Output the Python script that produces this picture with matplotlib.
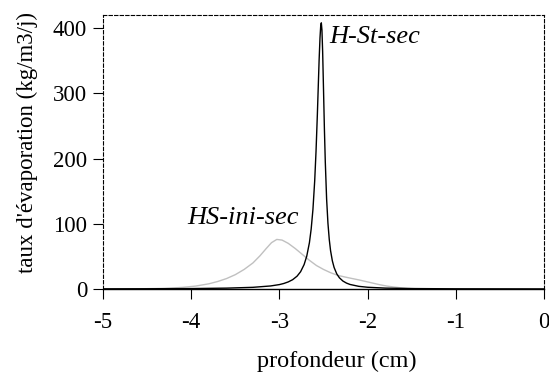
import matplotlib.pyplot as plt

plt.rcParams['font.family'] = ['Liberation Serif', 'DejaVu Serif']

# H-St-sec (black, narrow peak)
x_hst = [-5.0, -4.5, -4.0, -3.6, -3.3, -3.1, -3.0, -2.95, -2.9, -2.85, -2.8, -2.76,
         -2.72, -2.69, -2.66, -2.64, -2.62, -2.6, -2.585, -2.57, -2.56, -2.55, -2.54,
         -2.532, -2.525, -2.518, -2.51, -2.5, -2.49, -2.48, -2.465, -2.45, -2.435,
         -2.42, -2.4, -2.38, -2.35, -2.32, -2.28, -2.24, -2.2, -2.1, -2.0, -1.8,
         -1.5, -1.0, 0.0]
y_hst = [0.26, 0.4, 0.7, 1.35, 2.6, 4.7, 6.8, 8.5, 10.9, 14.3, 19.7, 26.5,
         37.5, 50.5, 71, 92, 122, 166, 211, 267, 309, 351, 385,
         403, 408, 397, 364, 305, 245, 195, 138, 101, 76,
         58.6, 43.2, 33, 23.2, 17.2, 12.2, 9.1, 7.0, 4.1, 2.7, 1.4,
         0.7, 0.3, 0.1]

# HS-ini-sec (grey, broad peak)
x_hsi = [-5.0, -4.6, -4.3, -4.1, -3.95, -3.8, -3.7, -3.6, -3.5, -3.4, -3.3, -3.22,
         -3.15, -3.09, -3.03, -2.97, -2.9, -2.82, -2.74, -2.66, -2.58, -2.5, -2.42,
         -2.34, -2.26, -2.18, -2.1, -2.02, -1.94, -1.86, -1.78, -1.7, -1.62, -1.55,
         -1.45, -1.3, 0.0]
y_hsi = [0, 0.3, 1, 2.5, 4.5, 8, 11.5, 16, 22, 30, 40, 51,
         62, 71, 76, 75, 70, 62, 53, 44, 36, 30, 25,
         21, 18.5, 16.2, 14, 11.5, 9, 6.5, 4.5, 3, 1.8, 1,
         0.4, 0.1, 0]

xticks = [-5, -4, -3, -2, -1, 0]
yticks = [0, 100, 200, 300, 400]

fig = plt.figure(figsize=(5.49, 3.78), dpi=100)
ax = fig.add_axes([0.1876, 0.2354, 0.8034, 0.7249])

ax.plot(x_hsi, y_hsi, color='#c0c0c0', lw=1.0)
ax.plot(x_hst, y_hst, color='black', lw=1.0)

ax.set_xlim(-5, 0)
ax.set_ylim(0, 420)
ax.set_xticks(xticks)
ax.set_xticklabels([str(v) for v in xticks])
ax.set_yticks(yticks)
ax.tick_params(direction='out', length=7.5, width=0.8, labelsize=16.5)
ax.tick_params(axis='x', pad=9)
ax.tick_params(axis='y', pad=4)

for s in ['top', 'right', 'left']:
    ax.spines[s].set_linestyle((0, (3, 2)))
    ax.spines[s].set_linewidth(0.8)
ax.spines['bottom'].set_linewidth(1.0)

ax.text(-2.43, 386, 'H-St-sec', style='italic', fontsize=19, va='center', ha='left')
ax.text(-4.04, 109, 'HS-ini-sec', style='italic', fontsize=19, va='center', ha='left')

ax.set_xlabel('profondeur (cm)', fontsize=17.5)
ax.set_ylabel("taux d'évaporation (kg/m3/j)", fontsize=16.5)
ax.xaxis.set_label_coords(0.53, -0.225)
ax.yaxis.set_label_coords(-0.147, 0.536)

fig.savefig('out.png', dpi=100)
